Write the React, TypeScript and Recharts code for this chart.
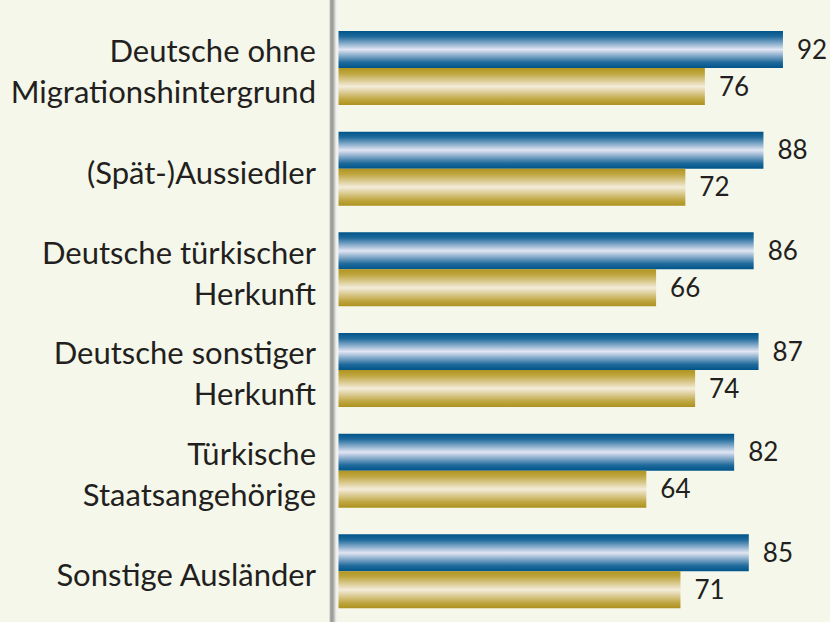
import { Bar, BarChart, LabelList, XAxis, YAxis } from "recharts";

const categories = [
    "Deutsche ohne\nMigrationshintergrund",
    "(Spät-)Aussiedler",
    "Deutsche türkischer\nHerkunft",
    "Deutsche sonstiger\nHerkunft",
    "Türkische\nStaatsangehörige",
    "Sonstige Ausländer",
];
const blueValues = [92, 88, 86, 87, 82, 85];
const goldValues = [76, 72, 66, 74, 64, 71];

const chartData = categories.map((name, i) => ({
    name,
    blue: blueValues[i],
    gold: goldValues[i],
}));

const FONT = "Lato, 'Liberation Sans', sans-serif";

function CategoryTick(props: any) {
    const { x, y, payload } = props;
    const lines: string[] = String(payload.value).split("\n");
    const lineHeight = 41;
    return (
        <text x={x} y={y} textAnchor="end" fill="#231f20" fontSize={31} fontFamily={FONT}>
            {lines.map((line, i) => (
                <tspan key={i} x={x} y={y + (i - (lines.length - 1) / 2) * lineHeight} dy="0.47em">
                    {line}
                </tspan>
            ))}
        </text>
    );
}

function App() {
    return (
        <div style={{ position: "absolute", left: 0, top: 0, width: 830, height: 622, background: "#f5f7ea" }}>
            <BarChart
                width={830}
                height={622}
                data={chartData}
                layout="vertical"
                margin={{ top: 0, right: 8, bottom: 0, left: 0 }}
                barCategoryGap={13}
                barGap={0}
            >
                <defs>
                    <linearGradient id="blueGrad" x1="0" y1="0" x2="0" y2="1">
                        <stop offset="0%" stopColor="#00548a" />
                        <stop offset="15%" stopColor="#1f6a9c" />
                        <stop offset="50%" stopColor="#e2e5f3" />
                        <stop offset="85%" stopColor="#1f6a9c" />
                        <stop offset="100%" stopColor="#00548a" />
                    </linearGradient>
                    <linearGradient id="goldGrad" x1="0" y1="0" x2="0" y2="1">
                        <stop offset="0%" stopColor="#b09520" />
                        <stop offset="15%" stopColor="#bfa640" />
                        <stop offset="50%" stopColor="#f3ecda" />
                        <stop offset="85%" stopColor="#bfa640" />
                        <stop offset="100%" stopColor="#ad9220" />
                    </linearGradient>
                    <linearGradient id="axisGrad" gradientUnits="userSpaceOnUse" x1="329.5" y1="0" x2="338.5" y2="0">
                        <stop offset="0%" stopColor="#c4c4c2" />
                        <stop offset="18%" stopColor="#9a9a98" />
                        <stop offset="38%" stopColor="#a0a09e" />
                        <stop offset="58%" stopColor="#cacac7" />
                        <stop offset="72%" stopColor="#efefec" />
                        <stop offset="100%" stopColor="#f4f4f0" />
                    </linearGradient>
                </defs>
                <XAxis type="number" domain={[0, 100]} hide />
                <YAxis
                    type="category"
                    dataKey="name"
                    width={334}
                    padding={{ top: 18, bottom: 0 }}
                    tickLine={false}
                    tickSize={0}
                    tickMargin={18}
                    axisLine={{ stroke: "url(#axisGrad)", strokeWidth: 9 }}
                    tick={<CategoryTick />}
                    interval={0}
                />
                <Bar dataKey="blue" fill="url(#blueGrad)" isAnimationActive={false}>
                    <LabelList dataKey="blue" position="right" offset={14} fill="#231f20" fontSize={26} fontFamily={FONT} />
                </Bar>
                <Bar dataKey="gold" fill="url(#goldGrad)" isAnimationActive={false}>
                    <LabelList dataKey="gold" position="right" offset={14} fill="#231f20" fontSize={26} fontFamily={FONT} />
                </Bar>
            </BarChart>
        </div>
    );
}

export default App;
